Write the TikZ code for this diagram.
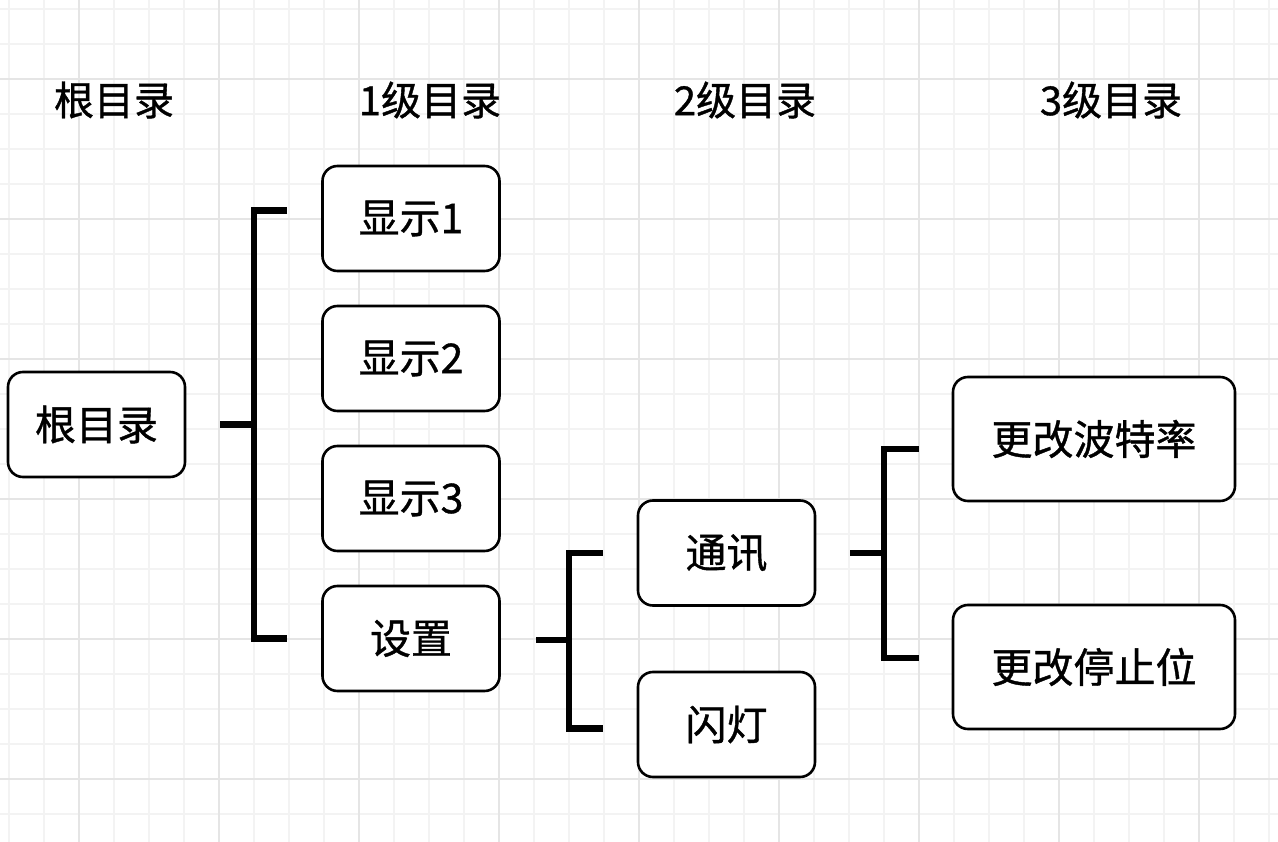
\documentclass[tikz,border=0pt]{standalone}
\usepackage{fontspec}
\newfontfamily\zhfont[FakeBold=0.9]{Noto Sans CJK SC}
\definecolor{gridminor}{RGB}{243,243,243}
\definecolor{gridmajor}{RGB}{229,229,229}

\begin{document}
\begin{tikzpicture}
        [x=1pt, y=-1pt,
        box/.style={draw, line width=2.6pt, rounded corners=15pt, fill=white,
            minimum width=177pt, minimum height=105pt, inner sep=0pt,
            font=\zhfont\fontsize{41}{49}\selectfont},
        widebox/.style={box, minimum width=282pt, minimum height=124pt},
        heading/.style={inner sep=0pt, font=\zhfont\fontsize{40}{48}\selectfont},
        bracket/.style={black, line width=6.5pt, line cap=butt},
        minorline/.style={gridminor, line width=1.2pt},
        majorline/.style={gridmajor, line width=1.2pt}]

        \useasboundingbox[fill=white] (0,0) rectangle (1278,842);

        % background grid
        \foreach \g in {9,44,...,1278} \draw[minorline] (\g,0) -- (\g,842);
        \foreach \g in {9,44,...,842} \draw[minorline] (0,\g) -- (1278,\g);
        \foreach \g in {79,219,...,1278} \draw[majorline] (\g,0) -- (\g,842);
        \foreach \g in {79,219,...,842} \draw[majorline] (0,\g) -- (1278,\g);

        % column headings
        \node[heading] (hroot) at (114,100) {根目录};
        \node[heading] (hlvl1) at (430,100) {1级目录};
        \node[heading] (hlvl2) at (745,100) {2级目录};
        \node[heading] (hlvl3) at (1111,100) {3级目录};

        \node[box] (root) at (96.5,424.5) {根目录};

        \node[box] (disp1) at (411,218.5) {显示1};
        \node[box] (disp2) at (411,358.5) {显示2};
        \node[box] (disp3) at (411,498.5) {显示3};
        \node[box] (setup) at (411,638.5) {设置};

        \node[box] (comm) at (726.5,553) {通讯};
        \node[box] (flash) at (726.5,724.5) {闪灯};

        \node[widebox] (baud) at (1094,439) {更改波特率};
        \node[widebox] (stopbit) at (1094,667) {更改停止位};

        % root -> level 1
        \coordinate (fork1) at (254,424.5);
        \draw[bracket] ([xshift=34pt]root.east) -- (fork1);
        \draw[bracket] ([xshift=-34pt, yshift=8pt]disp1.west) -| (fork1)
            |- ([xshift=-34pt]setup.west);

        % level 1 -> level 2
        \coordinate (fork2) at (569,640);
        \draw[bracket] ([xshift=35pt, yshift=-1.5pt]setup.east) -- (fork2);
        \draw[bracket] ([xshift=-34pt]comm.west) -| (fork2)
            |- ([xshift=-34pt, yshift=-4pt]flash.west);

        % level 2 -> level 3
        \coordinate (fork3) at (884,553);
        \draw[bracket] ([xshift=34pt]comm.east) -- (fork3);
        \draw[bracket] ([xshift=-33pt, yshift=-10pt]baud.west) -| (fork3)
            |- ([xshift=-33pt, yshift=9pt]stopbit.west);
    \end{tikzpicture}
\end{document}
